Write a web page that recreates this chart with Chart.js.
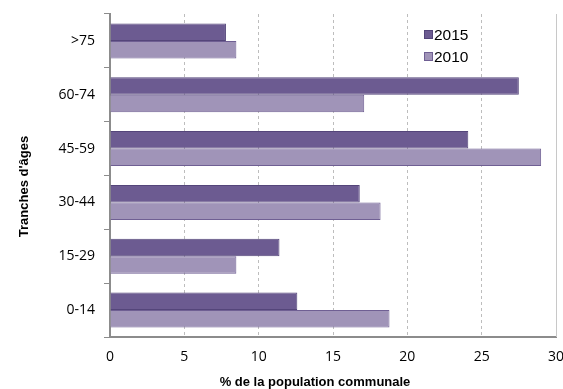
<!DOCTYPE html>
<html>
<head>
<meta charset="utf-8">
<script src="https://cdn.jsdelivr.net/npm/chart.js@4"></script>
<style>
  html, body { margin: 0; padding: 0; background: #fff; }
  #wrap { position: relative; width: 563px; height: 389px; }
  #legend { position: absolute; left: 424px; top: 24px; font: 15.5px "Liberation Sans", Arial, sans-serif; color: #000; }
  #legend div { height: 22px; line-height: 22px; }
  #legend span { display: inline-block; width: 7px; height: 7px; border: 1px solid; margin-right: 1px; vertical-align: 1px; }
</style>
</head>
<body>
<div id="wrap">
  <canvas id="ageChart" width="563" height="389"></canvas>
  <div id="legend"></div>
</div>
<script>
// Tranches d'âges (haut -> bas)
const categories = [">75", "60-74", "45-59", "30-44", "15-29", "0-14"];
const values2015 = [7.8, 27.5, 24.1, 16.8, 11.4, 12.6];
const values2010 = [8.5, 17.1, 29.0, 18.2, 8.5, 18.8];
const xTicks = [0, 5, 10, 15, 20, 25, 30];

const darkFill = "#6c5b91", darkLine = "#54457a";
const lightFill = "#a094b8", lightLine = "#6f5f93";

// titres des axes + bord droit de la zone de tracé
const axisTitles = {
    id: "axisTitles",
    afterDraw(chart) {
        const ctx = chart.ctx, a = chart.chartArea;
        ctx.save();
        ctx.strokeStyle = "#c8c8c8";
        ctx.lineWidth = 1;
        ctx.beginPath();
        ctx.moveTo(a.right + 0.5, a.top);
        ctx.lineTo(a.right + 0.5, a.bottom);
        ctx.stroke();

        ctx.fillStyle = "#000";
        ctx.font = "bold 13px 'Liberation Sans', Arial, sans-serif";
        ctx.textAlign = "center";
        ctx.textBaseline = "middle";
        ctx.fillText("% de la population communale", 315, a.bottom + 45);
        ctx.translate(24, (a.top + a.bottom) / 2 + 11);
        ctx.rotate(-Math.PI / 2);
        ctx.fillText("Tranches d'âges", 0, 0);
        ctx.restore();
    }
};

new Chart(document.getElementById("ageChart"), {
    type: "bar",
    data: {
        labels: categories,
        datasets: [{
            label: "2015",
            data: values2015,
            backgroundColor: darkFill,
            borderColor: darkLine,
            borderWidth: 1,
            categoryPercentage: 0.65,
            barPercentage: 1.0
        }, {
            label: "2010",
            data: values2010,
            backgroundColor: lightFill,
            borderColor: lightLine,
            borderWidth: 1,
            categoryPercentage: 0.65,
            barPercentage: 1.0
        }]
    },
    options: {
        indexAxis: "y",
        responsive: false,
        animation: false,
        layout: { padding: { top: 14, right: 7, left: 0, bottom: 0 } },
        plugins: {
            legend: { display: false },
            tooltip: { enabled: false }
        },
        scales: {
            x: {
                min: 0,
                max: 30,
                afterBuildTicks: (scale) => { scale.ticks = xTicks.map(v => ({ value: v })); },
                afterFit: (scale) => {
                    scale.height = 52;
                    scale.paddingLeft = 0;
                    scale.paddingRight = 0;
                },
                grid: { color: "#bdbdbd", lineWidth: 1, drawTicks: false },
                border: { color: "#8c8c8c", width: 2, dash: [3, 3] },
                ticks: { color: "#000", padding: 12, font: { family: "'Open Sans'", size: 14 } }
            },
            y: {
                afterFit: (scale) => {
                    scale.width = 110;
                    scale.paddingTop = 0;
                    scale.paddingBottom = 0;
                },
                grid: { drawOnChartArea: false, drawTicks: true, tickLength: 6, color: "#8c8c8c" },
                border: { color: "#8c8c8c", width: 2 },
                ticks: { color: "#000", padding: 9, font: { family: "'Open Sans'", size: 14 } }
            }
        }
    },
    plugins: [axisTitles]
});

// légende dans la zone de tracé
const legend = document.getElementById("legend");
[["2015", darkFill, darkLine], ["2010", lightFill, lightLine]].forEach(([t, f, l]) => {
    const row = document.createElement("div");
    row.innerHTML = '<span style="background:' + f + ';border-color:' + l + '"></span>' + t;
    legend.appendChild(row);
});
</script>
</body>
</html>
